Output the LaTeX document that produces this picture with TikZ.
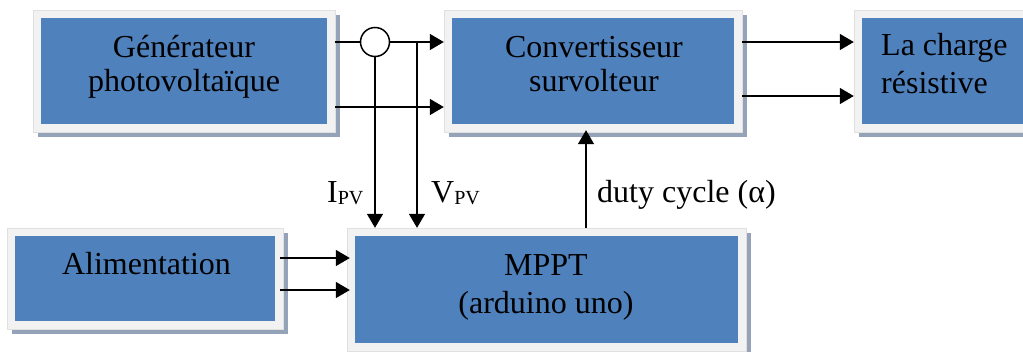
\documentclass[tikz,border=0pt]{standalone}
\usepackage{fontspec}
\setmainfont{Liberation Serif}
\usetikzlibrary{arrows.meta,shadows}
\definecolor{boxblue}{RGB}{79,129,189}
\definecolor{boxframe}{RGB}{242,242,242}
\definecolor{boxshade}{RGB}{149,163,184}
\begin{document}
\begin{tikzpicture}[x=1pt,y=-1pt,
  blockbox/.style={rectangle, fill=boxframe, draw=black!12, line width=0.4pt, inner sep=0pt,
    drop shadow={shadow xshift=5pt, shadow yshift=-5pt, fill=boxshade, opacity=1},
    path picture={\fill[boxblue] ([shift={(8pt,-8pt)}]path picture bounding box.north west) rectangle ([shift={(-8pt,8pt)}]path picture bounding box.south east);}},
  txt/.style={inner sep=0pt, anchor=base, font=\fontsize{32}{36}\selectfont},
  txtl/.style={txt, anchor=base west},
  conn/.style={line width=1.5pt},
  arr/.style={conn, -{Triangle[length=14pt,width=16pt]}}
]
\useasboundingbox (0,0) rectangle (1023,351);
\fill[white] (0,0) rectangle (1023,351);

% blocks (outer frames)
\node[blockbox, minimum width=302pt, minimum height=122pt] (gen) at (184,71) {};
\node[blockbox, minimum width=298pt, minimum height=122pt] (conv) at (593,71) {};
\node[blockbox, minimum width=190pt, minimum height=122pt] (charge) at (949,71) {};
\node[blockbox, minimum width=276pt, minimum height=101pt] (alim) at (145,278.5) {};
\node[blockbox, minimum width=399pt, minimum height=123pt] (mppt) at (546.5,289.5) {};

% texts
\node[txt] (gen1) at (184,57) {Générateur};
\node[txt] (gen2) at (184,91) {photovoltaïque};
\node[txt] (conv1) at (594,57) {Convertisseur};
\node[txt] (conv2) at (594,91) {survolteur};
\node[txtl] (ch1) at (881,55) {La charge};
\node[txtl] (ch2) at (881,93) {résistive};
\node[txt] (alim1) at (146.5,274) {Alimentation};
\node[txt] (mppt1) at (546,275) {MPPT};
\node[txt] (mppt2) at (546,313) {(arduino uno)};

% current sensor
\node[circle, draw, fill=white, line width=1.5pt, minimum size=29pt, inner sep=0pt] (cs) at (375,42) {};
\coordinate (j) at (417,42);

% connectors
\draw[conn] (gen.east |- cs.west) -- (cs.west);
\draw[arr] (cs.east) -- (cs.east -| conv.west);
\draw[arr] (gen.east |- {(0,107)}) -- (conv.west |- {(0,107)});
\draw[arr] (cs.south) -- (cs.south |- mppt.north);
\draw[arr] (j) -- (j |- mppt.north);
\draw[arr] (conv.east |- {(0,42)}) -- (charge.west |- {(0,42)});
\draw[arr] (conv.east |- {(0,96)}) -- (charge.west |- {(0,96)});
\draw[arr] ([xshift=-3pt]alim.east |- {(0,258)}) -- ([xshift=3pt]mppt.west |- {(0,258)});
\draw[arr] ([xshift=-3pt]alim.east |- {(0,290)}) -- ([xshift=3pt]mppt.west |- {(0,290)});
\draw[arr] (mppt.north -| {(586,0)}) -- ([yshift=2pt]conv.south -| {(586,0)});

% labels
\node[txtl] (ipv) at (327,202) {I\raisebox{-2pt}{\fontsize{20}{20}\selectfont PV}};
\node[txtl] (vpv) at (431,202) {V\raisebox{-2pt}{\fontsize{20}{20}\selectfont PV}};
\node[txtl] (duty) at (597,202) {duty cycle (α)};
\end{tikzpicture}
\end{document}
